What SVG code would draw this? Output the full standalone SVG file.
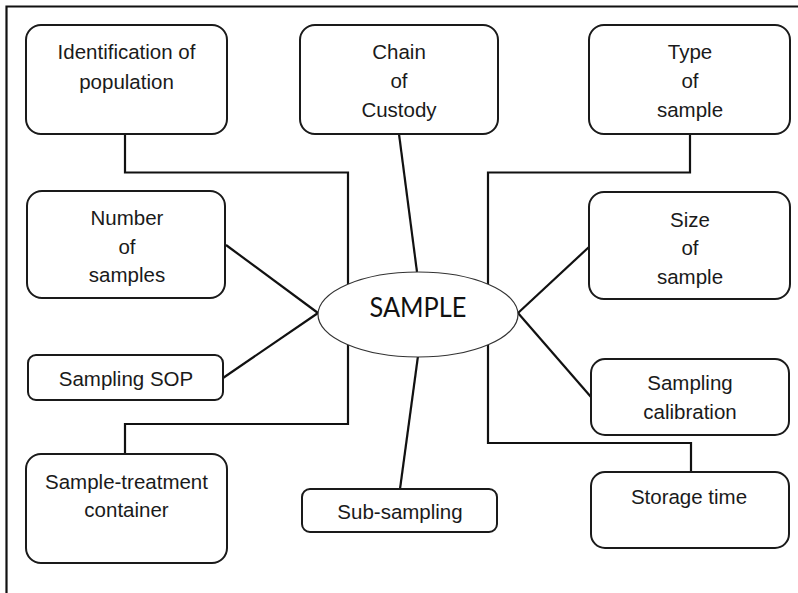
<svg xmlns="http://www.w3.org/2000/svg" width="798" height="593" viewBox="0 0 798 593">
<style>
.box{fill:#fff;stroke:#1a1a1a;stroke-width:2}
.t{font-family:"Liberation Sans",Arial,sans-serif;font-size:20.5px;fill:#1a1a1a;text-anchor:middle}
.c{fill:none;stroke:#111;stroke-width:2.2}
</style>
<rect width="798" height="593" fill="#fff"/>
<path d="M6.5 593 V6.5 H798" fill="none" stroke="#111" stroke-width="2.2"/>
<g id="connectors">
<path class="c" d="M125 134 V172.5 H348 V284"/>
<path class="c" d="M399 134 L417 272"/>
<path class="c" d="M690 134 V172.5 H488 V284"/>
<path class="c" d="M226 245 L318 313"/>
<path class="c" d="M223 378 L318 313"/>
<path class="c" d="M125 454 V424 H348 V345"/>
<path class="c" d="M418 356 L400 489"/>
<path class="c" d="M589 247 L518 313"/>
<path class="c" d="M518 313 L591 397"/>
<path class="c" d="M488 345 V443 H691 V472"/>
</g>
<g id="sample">
<ellipse cx="418" cy="314.5" rx="100" ry="42.5" fill="#fff" stroke="#333" stroke-width="1.2"/>
<text x="418" y="317" font-family="Lato,'DejaVu Sans',sans-serif" font-size="26" fill="#111" text-anchor="middle" textLength="97" lengthAdjust="spacingAndGlyphs">SAMPLE</text>
</g>
<g id="identification">
<rect class="box" x="26" y="25" width="201" height="109" rx="15"/>
<text class="t" x="126.5" y="59">Identification of</text>
<text class="t" x="126.5" y="89">population</text>
</g>
<g id="chain">
<rect class="box" x="300" y="25" width="198" height="109" rx="15"/>
<text class="t" x="399" y="59">Chain</text>
<text class="t" x="399" y="88">of</text>
<text class="t" x="399" y="117">Custody</text>
</g>
<g id="type">
<rect class="box" x="589" y="25" width="201" height="109" rx="15"/>
<text class="t" x="690" y="59">Type</text>
<text class="t" x="690" y="88">of</text>
<text class="t" x="690" y="117">sample</text>
</g>
<g id="number">
<rect class="box" x="27" y="191" width="198" height="107" rx="15"/>
<text class="t" x="127" y="225">Number</text>
<text class="t" x="127" y="254">of</text>
<text class="t" x="127" y="282">samples</text>
</g>
<g id="size">
<rect class="box" x="589" y="192" width="201" height="107" rx="15"/>
<text class="t" x="690" y="227">Size</text>
<text class="t" x="690" y="255">of</text>
<text class="t" x="690" y="284">sample</text>
</g>
<g id="sop">
<rect class="box" x="28" y="355" width="195" height="45" rx="8"/>
<text class="t" x="126" y="386">Sampling SOP</text>
</g>
<g id="calibration">
<rect class="box" x="591" y="359" width="198" height="76" rx="14"/>
<text class="t" x="690" y="390">Sampling</text>
<text class="t" x="690" y="419">calibration</text>
</g>
<g id="container">
<rect class="box" x="26" y="454" width="201" height="109" rx="15"/>
<text class="t" x="126.5" y="489">Sample-treatment</text>
<text class="t" x="126.5" y="517">container</text>
</g>
<g id="subsampling">
<rect class="box" x="302" y="489" width="195" height="43" rx="8"/>
<text class="t" x="400" y="519">Sub-sampling</text>
</g>
<g id="storage">
<rect class="box" x="591" y="472" width="198" height="76" rx="14"/>
<text class="t" x="689" y="504">Storage time</text>
</g>
</svg>
